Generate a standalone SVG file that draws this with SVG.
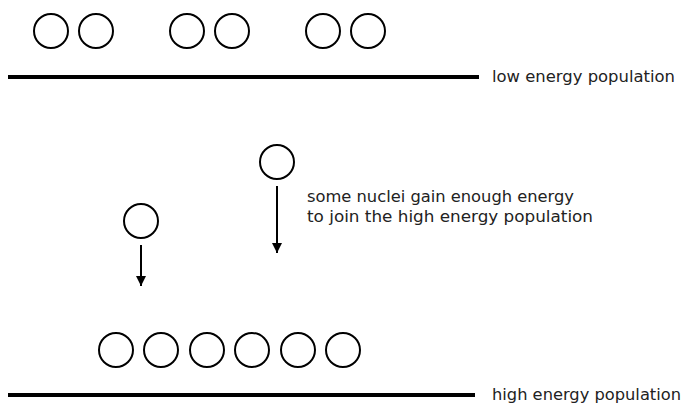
<svg xmlns="http://www.w3.org/2000/svg" width="683" height="406" viewBox="0 0 683 406">
<defs>
<style>
.n{fill:none;stroke:#000;stroke-width:2}
.lvl{stroke:#000;stroke-width:4}
.c{stroke:#000;stroke-width:2;fill:none}
.t{font-family:"DejaVu Sans","Liberation Sans",sans-serif;font-size:16px;fill:#222}
</style>
<marker id="ah" viewBox="0 0 10 10" refX="10" refY="5" markerWidth="5" markerHeight="5" markerUnits="strokeWidth" orient="auto">
<path d="M0,0 L10,5 L0,10 Z" fill="#000"/>
</marker>
</defs>
<rect width="683" height="406" fill="#fff"/>
<g id="low-level">
<line class="lvl" x1="8" y1="77" x2="479" y2="77"/>
<text class="t" x="492" y="82" textLength="183" lengthAdjust="spacingAndGlyphs">low energy population</text>
</g>
<g id="low-nuclei">
<circle class="n" cx="51" cy="31" r="17"/>
<circle class="n" cx="96" cy="31" r="17"/>
<circle class="n" cx="187" cy="31" r="17"/>
<circle class="n" cx="232" cy="31" r="17"/>
<circle class="n" cx="323" cy="31" r="17"/>
<circle class="n" cx="368" cy="31" r="17"/>
</g>
<g id="moving-nuclei">
<circle class="n" cx="277" cy="162" r="17"/>
<circle class="n" cx="141" cy="221" r="17"/>
</g>
<g id="connectors">
<line class="c" x1="277" y1="186" x2="277" y2="253" marker-end="url(#ah)"/>
<line class="c" x1="141" y1="245" x2="141" y2="286" marker-end="url(#ah)"/>
</g>
<g id="note">
<text class="t" x="307" y="202" textLength="267" lengthAdjust="spacingAndGlyphs">some nuclei gain enough energy</text>
<text class="t" x="307" y="222" textLength="286" lengthAdjust="spacingAndGlyphs">to join the high energy population</text>
</g>
<g id="high-nuclei">
<circle class="n" cx="116" cy="350" r="17"/>
<circle class="n" cx="161" cy="350" r="17"/>
<circle class="n" cx="207" cy="350" r="17"/>
<circle class="n" cx="252" cy="350" r="17"/>
<circle class="n" cx="298" cy="350" r="17"/>
<circle class="n" cx="343" cy="350" r="17"/>
</g>
<g id="high-level">
<line class="lvl" x1="8" y1="395" x2="475" y2="395"/>
<text class="t" x="492" y="400" textLength="189" lengthAdjust="spacingAndGlyphs">high energy population</text>
</g>
</svg>
